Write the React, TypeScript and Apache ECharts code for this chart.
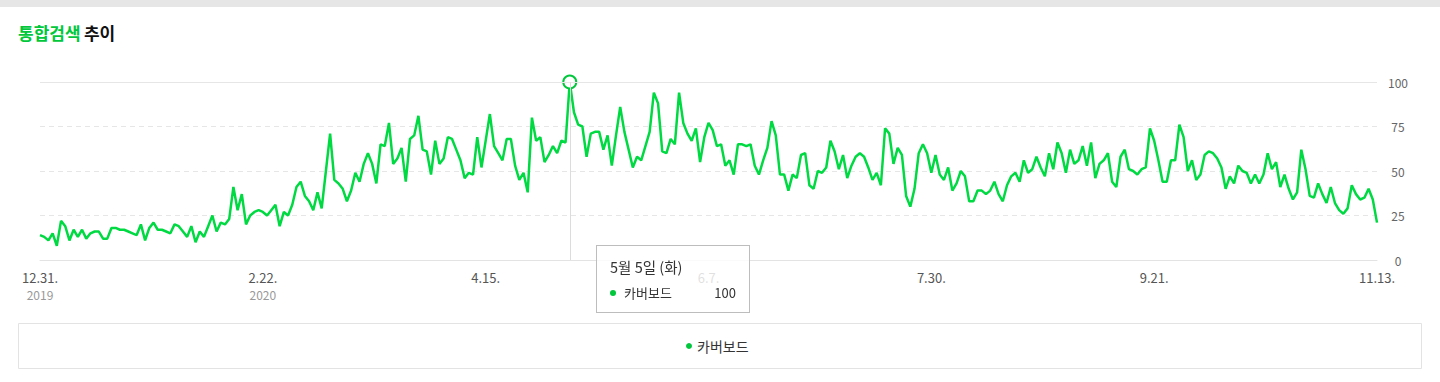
import React, { useEffect, useRef } from 'react';
import * as echarts from 'echarts';

const GREEN = '#00c73c';
const SERIES_NAME = '카버보드';
const START_UTC = Date.UTC(2019, 11, 31);
const DAY_COUNT = 319;

// daily dates 2019-12-31 .. 2020-11-13
const categories: string[] = Array.from({ length: DAY_COUNT }, (_, i) => {
  const d = new Date(START_UTC + i * 86400000);
  return `${d.getUTCFullYear()}-${d.getUTCMonth() + 1}-${d.getUTCDate()}`;
});

const tickIndices = [0, 53, 106, 159, 212, 265, 318];
const yearLabels: Record<number, string> = { 0: '2019', 53: '2020' };
const yTicks = [0, 25, 50, 75, 100];
const weekdays = ['일', '월', '화', '수', '목', '금', '토'];
const highlightIndex = 126;

const janFeb = [14, 13, 11, 15, 8, 22, 19, 11, 17, 13, 17, 12, 15, 16, 16, 12, 12, 18, 18, 17, 17, 16, 15, 14, 20, 11, 18, 21, 17,
  17, 16, 15, 20, 19, 16, 13, 19, 10, 16, 13, 19, 25, 16, 21, 20, 23, 41, 28, 37, 20, 25, 27, 28, 27, 25, 28, 31, 19, 27];
const marApr = [25, 31, 41, 44, 36, 33, 28, 38, 29, 50, 71, 45, 43, 40, 33, 39, 49, 44, 54, 60, 54, 43, 65, 64, 77, 54, 57, 63, 44, 68,
  70, 81, 62, 61, 48, 67, 54, 57, 69, 68, 62, 56, 46, 49, 48, 69, 52, 67, 82, 64, 60, 56, 68, 68, 53, 45, 49, 38, 80];
const mayJun = [67, 69, 55, 59, 64, 60, 67, 66, 100, 83, 76, 75, 58, 71, 72, 72, 62, 70, 53, 70, 86, 72, 62, 52, 58, 56, 64, 72, 94,
  88, 61, 60, 68, 65, 94, 77, 71, 67, 74, 55, 69, 77, 73, 64, 65, 53, 56, 48, 65, 65, 64, 65, 53, 48, 56, 63, 78, 70, 48];
const julAug = [48, 39, 48, 46, 59, 60, 42, 40, 50, 49, 52, 67, 61, 51, 59, 46, 53, 58, 60, 58, 52, 45, 49, 42, 74, 71, 54, 63, 59, 36,
  30, 40, 60, 65, 60, 49, 59, 48, 45, 52, 39, 43, 50, 47, 33, 33, 39, 39, 37, 39, 44, 37, 33, 42, 47, 49, 44, 56, 49];
const sepOct = [51, 58, 52, 47, 60, 51, 66, 60, 49, 62, 54, 56, 64, 53, 66, 46, 54, 56, 60, 44, 41, 58, 62, 51, 50, 48, 51, 52, 74,
  67, 56, 44, 44, 56, 56, 76, 69, 50, 56, 45, 48, 59, 61, 60, 57, 52, 40, 47, 43, 53, 50, 49, 43, 48, 43, 48, 60, 51, 55];
const novPart = [41, 48, 40, 34, 38, 62, 51, 36, 35, 43, 37, 32, 41, 32, 28, 26, 29, 42, 37, 34, 35, 40, 34, 21];

const values = [...janFeb, ...marApr, ...mayJun, ...julAug, ...sepOct, ...novPart];

const FONT = '"Noto Sans CJK KR", "Noto Sans", sans-serif';

export default function App() {
  const ref = useRef<HTMLDivElement>(null);

  useEffect(() => {
    document.body.style.margin = '0';
    const chart = echarts.init(ref.current!, undefined, { renderer: 'svg' });
    chart.setOption({
      animation: false,
      textStyle: { fontFamily: FONT },
      grid: { left: 40, right: 63, top: 82, bottom: 122, containLabel: false },
      tooltip: {
        trigger: 'axis',
        alwaysShowContent: true,
        position: [596, 245],
        backgroundColor: 'rgba(255,255,255,0.82)',
        borderColor: '#bdbdbd',
        borderWidth: 1,
        padding: [12, 13, 10, 13],
        extraCssText: 'box-shadow:none;border-radius:0;width:126px;',
        axisPointer: { type: 'line', lineStyle: { color: '#dcdcdc', width: 1, type: 'solid' } },
        formatter: (params: any) => {
          const p = Array.isArray(params) ? params[0] : params;
          const [y, m, d] = String(p.name).split('-').map(Number);
          const wd = weekdays[new Date(Date.UTC(y, m - 1, d)).getUTCDay()];
          return `<div style="font-family:${FONT.replace(/"/g, "'")};color:#333;">
            <div style="font-size:14.5px;line-height:18px;margin-bottom:8px;">${m}월 ${d}일 (${wd})</div>
            <div style="display:flex;align-items:center;font-size:13px;line-height:18px;">
              <span style="display:inline-block;width:6px;height:6px;border-radius:3px;background:${GREEN};margin-right:8px;"></span>
              <span style="flex:1;">${p.seriesName}</span>
              <span>${p.value}</span>
            </div></div>`;
        },
      },
      xAxis: {
        type: 'category',
        data: categories,
        boundaryGap: false,
        axisLine: { lineStyle: { color: '#e3e3e3' } },
        axisTick: { show: false },
        axisLabel: {
          interval: (index: number) => tickIndices.includes(index),
          margin: 9,
          formatter: (value: string, index: number) => {
            const [, m, d] = value.split('-');
            const lab = `{d|${m}.${d}.}`;
            return yearLabels[index] ? `${lab}\n{y|${yearLabels[index]}}` : lab;
          },
          rich: {
            d: { fontSize: 13, color: '#555', lineHeight: 17, fontFamily: FONT },
            y: { fontSize: 12, color: '#999', lineHeight: 17, fontFamily: FONT },
          },
        },
        splitLine: { show: false },
      },
      yAxis: {
        type: 'value',
        position: 'right',
        min: 0,
        max: 100,
        interval: 25,
        axisLine: { show: false },
        axisTick: { show: false },
        axisLabel: {
          align: 'center',
          margin: 21,
          fontSize: 12,
          color: '#666',
          fontFamily: FONT,
          formatter: (v: number) => (yTicks.includes(v) ? String(v) : ''),
        },
        splitLine: { lineStyle: { color: '#e6e6e6', type: [5, 4], width: 1 } },
      },
      series: [
        {
          name: SERIES_NAME,
          type: 'line',
          data: values,
          showSymbol: false,
          symbol: 'circle',
          symbolSize: 13,
          itemStyle: { color: '#fff', borderColor: GREEN, borderWidth: 2 },
          lineStyle: { color: GREEN, width: 2.5 },
          emphasis: { scale: false, lineStyle: { width: 2.5 }, itemStyle: { color: '#fff', borderColor: GREEN, borderWidth: 2 } },
          markLine: {
            silent: true,
            symbol: 'none',
            label: { show: false },
            lineStyle: { color: '#e6e6e6', type: 'solid', width: 1 },
            data: [{ yAxis: 100 }],
          },
          z: 3,
        },
      ],
      graphic: [
        { type: 'rect', left: 0, top: 0, shape: { width: 1440, height: 7 }, style: { fill: '#e6e6e6' }, silent: true },
        {
          type: 'text',
          left: 18,
          top: 24,
          style: {
            text: '{g|통합검색} {b|추이}',
            rich: {
              g: { fill: GREEN, fontSize: 17, fontWeight: 'bold', fontFamily: FONT },
              b: { fill: '#111', fontSize: 17, fontWeight: 'bold', fontFamily: FONT },
            },
          },
        },
        {
          type: 'rect',
          shape: { x: 18.5, y: 323.5, width: 1403, height: 45 },
          style: { fill: 'none', stroke: '#e3e3e3', lineWidth: 1 },
          silent: true,
        },
        { type: 'circle', shape: { cx: 689, cy: 346, r: 3 }, style: { fill: GREEN } },
        {
          type: 'text',
          x: 697,
          y: 346,
          style: { text: SERIES_NAME, fill: '#333', fontSize: 14, fontFamily: FONT, verticalAlign: 'middle', align: 'left' },
        },
      ],
    });
    chart.dispatchAction({ type: 'showTip', seriesIndex: 0, dataIndex: highlightIndex });
    return () => chart.dispose();
  }, []);

  return <div ref={ref} style={{ position: 'absolute', left: 0, top: 0, width: 1440, height: 382, background: '#fff' }} />;
}
